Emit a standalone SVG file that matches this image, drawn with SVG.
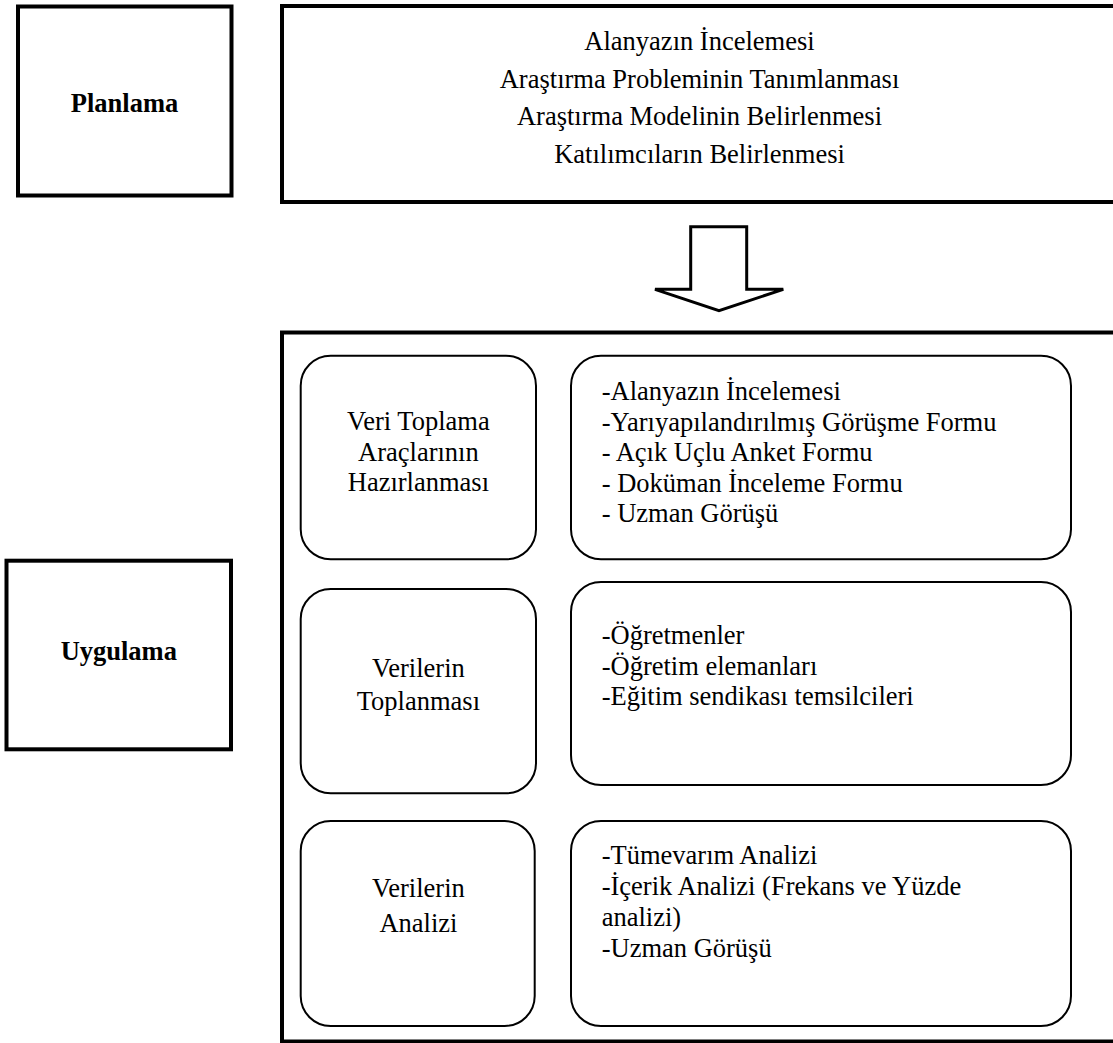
<svg xmlns="http://www.w3.org/2000/svg" width="1113" height="1043" viewBox="0 0 1113 1043">
<style>
.frame{fill:#fff;stroke:#000;stroke-width:4}
.rbox{fill:#fff;stroke:#000;stroke-width:2}
.t{font-family:"Liberation Serif","Times New Roman",serif;font-size:26.5px;fill:#000}
.c{text-anchor:middle}
.b{font-weight:bold}
.arrow{fill:#fff;stroke:#000;stroke-width:3;stroke-linejoin:miter}
</style>
<rect width="1113" height="1043" fill="#fff"/>
<g id="planlama">
<rect class="frame" x="18" y="6.5" width="213.5" height="189"/>
<text class="t c b" x="124.5" y="112">Planlama</text>
</g>
<g id="planlama-icerik">
<rect class="frame" x="282" y="6" width="840" height="196"/>
<text class="t c" x="699.5" y="50">Alanyazın İncelemesi</text>
<text class="t c" x="699.5" y="87.5">Araştırma Probleminin Tanımlanması</text>
<text class="t c" x="699.5" y="125">Araştırma Modelinin Belirlenmesi</text>
<text class="t c" x="699.5" y="162.5">Katılımcıların Belirlenmesi</text>
</g>
<g id="connectors">
<polygon class="arrow" points="690.7,226.7 746.7,226.7 746.7,289.3 783.3,289.3 719,310.7 655,289.3 690.7,289.3"/>
</g>
<g id="uygulama">
<rect class="frame" x="6.5" y="560.7" width="224.5" height="188.6"/>
<text class="t c b" x="118.8" y="660">Uygulama</text>
</g>
<g id="uygulama-icerik">
<rect class="frame" x="282" y="332.5" width="840" height="709"/>
</g>
<g id="veri-toplama-araclari">
<rect class="rbox" x="300.7" y="355.7" width="235.3" height="203.6" rx="30" ry="30"/>
<text class="t c" x="418.4" y="430">Veri Toplama</text>
<text class="t c" x="418.4" y="460.5">Araçlarının</text>
<text class="t c" x="418.4" y="491">Hazırlanması</text>
</g>
<g id="veri-toplama-araclari-liste">
<rect class="rbox" x="571" y="355.7" width="500" height="203.6" rx="30" ry="30"/>
<text class="t" x="601.7" y="400">-Alanyazın İncelemesi</text>
<text class="t" x="601.7" y="430.5">-Yarıyapılandırılmış Görüşme Formu</text>
<text class="t" x="601.7" y="461">- Açık Uçlu Anket Formu</text>
<text class="t" x="601.7" y="491.5">- Doküman İnceleme Formu</text>
<text class="t" x="601.7" y="522">- Uzman Görüşü</text>
</g>
<g id="verilerin-toplanmasi">
<rect class="rbox" x="300.7" y="589" width="235.3" height="204.3" rx="30" ry="30"/>
<text class="t c" x="418.4" y="677">Verilerin</text>
<text class="t c" x="418.4" y="710">Toplanması</text>
</g>
<g id="verilerin-toplanmasi-liste">
<rect class="rbox" x="571" y="582" width="500" height="203" rx="30" ry="30"/>
<text class="t" x="601.7" y="644">-Öğretmenler</text>
<text class="t" x="601.7" y="674.5">-Öğretim elemanları</text>
<text class="t" x="601.7" y="705">-Eğitim sendikası temsilcileri</text>
</g>
<g id="verilerin-analizi">
<rect class="rbox" x="300.7" y="821" width="234" height="205" rx="30" ry="30"/>
<text class="t c" x="418.4" y="897">Verilerin</text>
<text class="t c" x="418.4" y="932">Analizi</text>
</g>
<g id="verilerin-analizi-liste">
<rect class="rbox" x="571" y="821" width="500" height="205" rx="30" ry="30"/>
<text class="t" x="601.7" y="864">-Tümevarım Analizi</text>
<text class="t" x="601.7" y="895">-İçerik Analizi (Frekans ve Yüzde</text>
<text class="t" x="601.7" y="926">analizi)</text>
<text class="t" x="601.7" y="957">-Uzman Görüşü</text>
</g>
</svg>
